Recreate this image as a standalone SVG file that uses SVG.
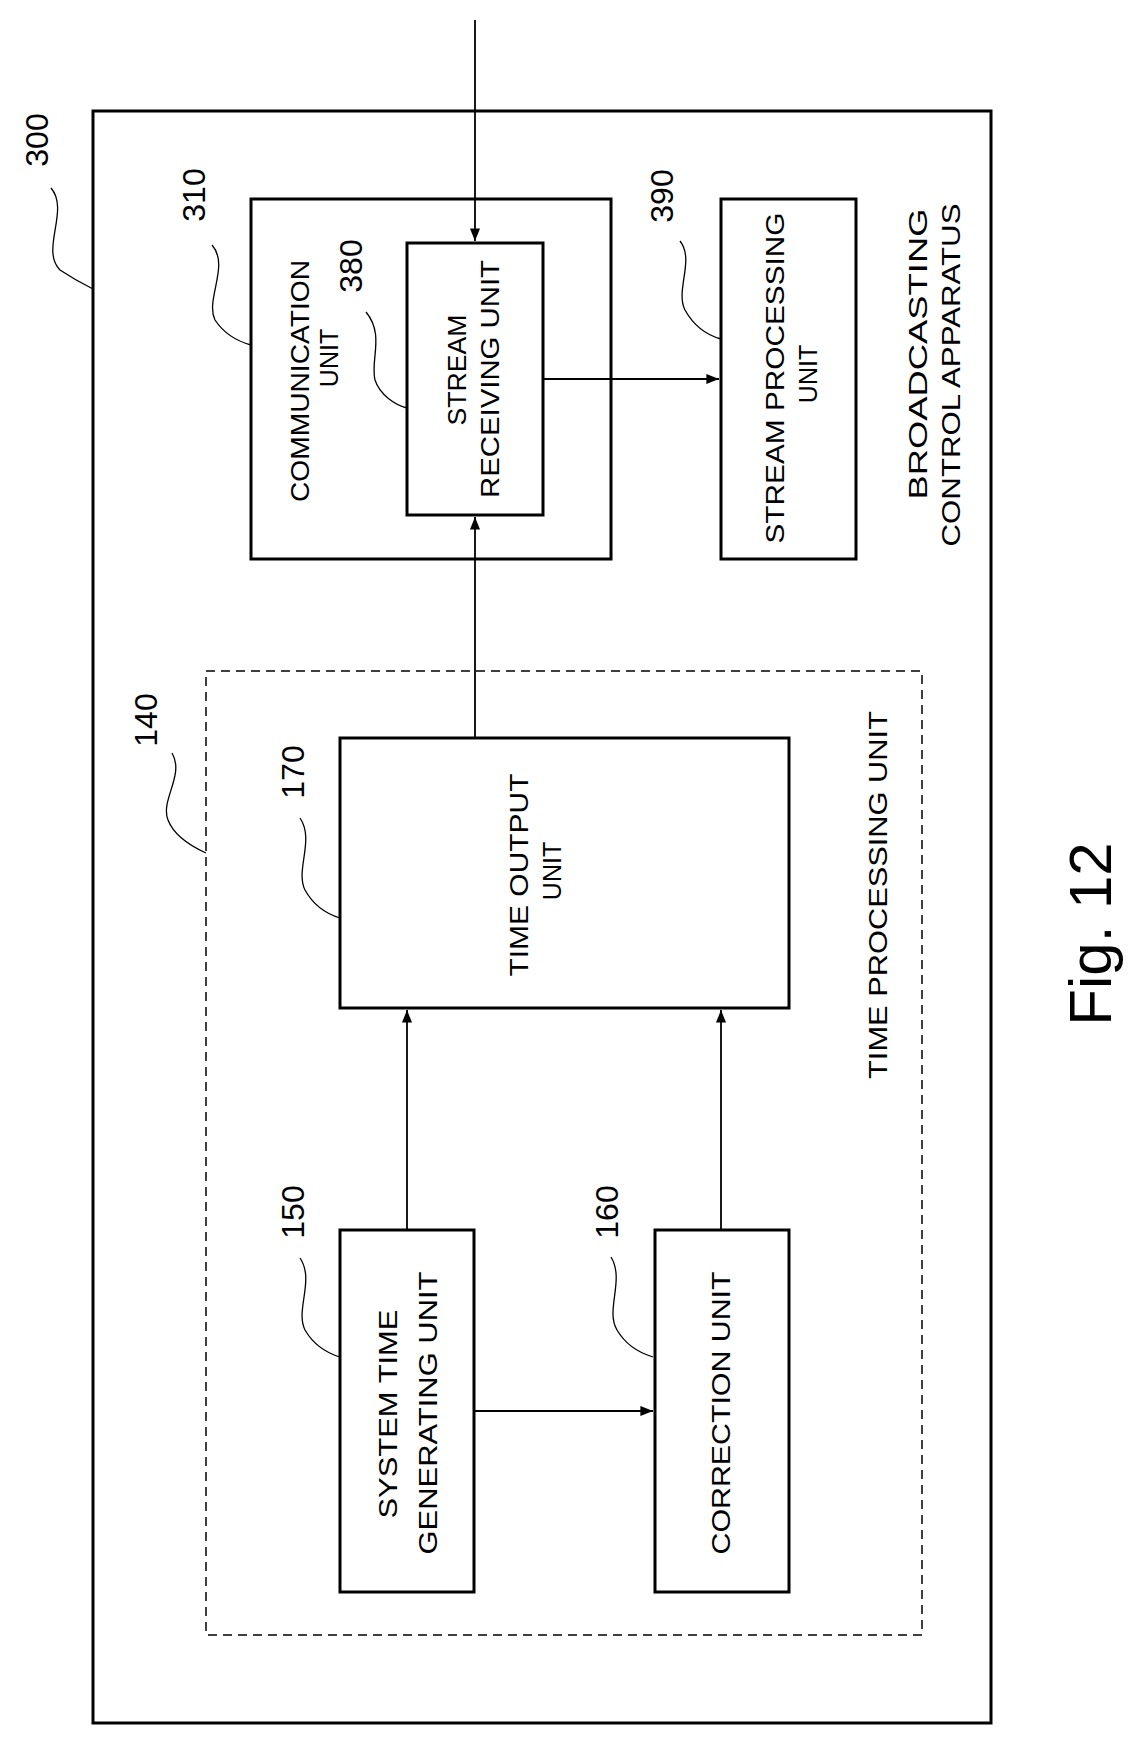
<svg xmlns="http://www.w3.org/2000/svg" width="1147" height="1747" viewBox="0 0 1147 1747">
<style>
.b{fill:none;stroke:#000;stroke-width:3}
.c{fill:none;stroke:#000;stroke-width:1.8}
.l{fill:none;stroke:#000;stroke-width:1.3}
.t{font-family:"Liberation Sans",Arial,sans-serif;font-size:25px;fill:#000;text-anchor:middle;dominant-baseline:central}
.n{font-family:"Liberation Sans",Arial,sans-serif;font-size:32px;fill:#000;text-anchor:middle;dominant-baseline:central}
</style>
<defs>
<marker id="a" viewBox="0 0 10 10" refX="10" refY="5" markerWidth="7" markerHeight="7" orient="auto"><path d="M0,1 L10,5 L0,9 z" fill="#000"/></marker>
</defs>
<rect width="1147" height="1747" fill="#fff"/>
<g id="n300"><rect class="b" x="93" y="111" width="898" height="1612"/>
<text class="t" transform="translate(918,354) rotate(-90)" textLength="291" lengthAdjust="spacingAndGlyphs">BROADCASTING</text>
<text class="t" transform="translate(951,375) rotate(-90)" textLength="343" lengthAdjust="spacingAndGlyphs">CONTROL APPARATUS</text>
<text class="n" transform="translate(37,140) rotate(-90)">300</text>
<path class="l" d="M51,188 C70,210 40,250 60,270 C75,280 85,285 93,289"/></g>
<g id="n310"><rect class="b" x="251" y="199" width="360" height="360"/>
<text class="t" transform="translate(300,381) rotate(-90)" textLength="242" lengthAdjust="spacingAndGlyphs">COMMUNICATION</text>
<text class="t" transform="translate(329,358) rotate(-90)">UNIT</text>
<text class="n" transform="translate(194,195) rotate(-90)">310</text>
<path class="l" d="M212,245 C230,265 205,300 215,320 C225,335 240,342 251,345"/></g>
<g id="n380"><rect class="b" x="407" y="243" width="136" height="272"/>
<text class="t" transform="translate(457,370) rotate(-90)" textLength="111" lengthAdjust="spacingAndGlyphs">STREAM</text>
<text class="t" transform="translate(490,379) rotate(-90)" textLength="238" lengthAdjust="spacingAndGlyphs">RECEIVING UNIT</text>
<text class="n" transform="translate(351,266) rotate(-90)">380</text>
<path class="l" d="M366,312 C385,335 370,360 375,380 C380,395 395,405 407,408"/></g>
<g id="n390"><rect class="b" x="721" y="199" width="135" height="360"/>
<text class="t" transform="translate(775,378) rotate(-90)" textLength="331" lengthAdjust="spacingAndGlyphs">STREAM PROCESSING</text>
<text class="t" transform="translate(808,374) rotate(-90)">UNIT</text>
<text class="n" transform="translate(662,196) rotate(-90)">390</text>
<path class="l" d="M680,241 C695,260 675,290 685,310 C695,328 710,336 721,339"/></g>
<g id="n140"><rect x="206" y="671" width="716" height="964" fill="none" stroke="#000" stroke-width="1.5" stroke-dasharray="9,6"/>
<text class="t" transform="translate(878,895) rotate(-90)" textLength="368" lengthAdjust="spacingAndGlyphs">TIME PROCESSING UNIT</text>
<text class="n" transform="translate(146,720) rotate(-90)">140</text>
<path class="l" d="M172,753 C185,775 160,800 168,820 C175,838 195,848 206,853"/></g>
<g id="n170"><rect class="b" x="340" y="738" width="449" height="270"/>
<text class="t" transform="translate(519,875) rotate(-90)" textLength="203" lengthAdjust="spacingAndGlyphs">TIME OUTPUT</text>
<text class="t" transform="translate(552,871) rotate(-90)">UNIT</text>
<text class="n" transform="translate(293,772) rotate(-90)">170</text>
<path class="l" d="M300,818 C315,840 295,870 305,890 C315,908 330,915 340,918"/></g>
<g id="n150"><rect class="b" x="340" y="1230" width="134" height="362"/>
<text class="t" transform="translate(388,1414) rotate(-90)" textLength="209" lengthAdjust="spacingAndGlyphs">SYSTEM TIME</text>
<text class="t" transform="translate(428,1413) rotate(-90)" textLength="283" lengthAdjust="spacingAndGlyphs">GENERATING UNIT</text>
<text class="n" transform="translate(293,1212) rotate(-90)">150</text>
<path class="l" d="M300,1258 C315,1280 295,1310 305,1330 C315,1347 330,1354 340,1357"/></g>
<g id="n160"><rect class="b" x="655" y="1230" width="134" height="362"/>
<text class="t" transform="translate(721,1413) rotate(-90)" textLength="283" lengthAdjust="spacingAndGlyphs">CORRECTION UNIT</text>
<text class="n" transform="translate(607,1212) rotate(-90)">160</text>
<path class="l" d="M611,1257 C625,1280 605,1310 617,1330 C627,1347 643,1354 653,1357"/></g>
<g id="connectors">
<line class="c" x1="475" y1="20" x2="475" y2="241" marker-end="url(#a)"/>
<line class="c" x1="543" y1="379" x2="719" y2="379" marker-end="url(#a)"/>
<line class="c" x1="475" y1="738" x2="475" y2="517" marker-end="url(#a)"/>
<line class="c" x1="407" y1="1230" x2="407" y2="1010" marker-end="url(#a)"/>
<line class="c" x1="721" y1="1230" x2="721" y2="1010" marker-end="url(#a)"/>
<line class="c" x1="474" y1="1411" x2="653" y2="1411" marker-end="url(#a)"/>
</g>
<text x="1090" y="934" transform="rotate(-90 1090 934)" font-family="Liberation Sans, Arial, sans-serif" font-size="60" text-anchor="middle" dominant-baseline="central">Fig. 12</text>
</svg>
